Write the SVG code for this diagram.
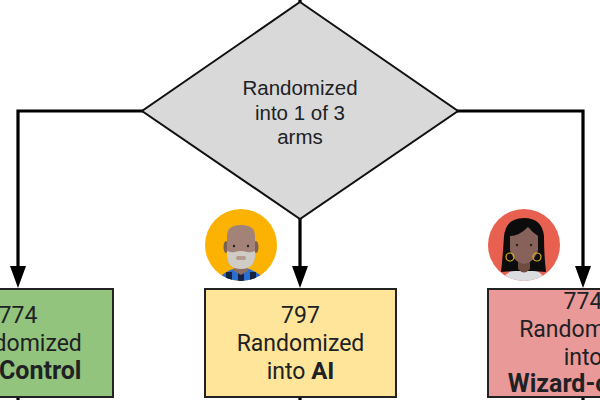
<svg xmlns="http://www.w3.org/2000/svg" width="600" height="400" viewBox="0 0 600 400">
<style>
.c{fill:none;stroke:#000;stroke-width:3.2}
.h{fill:#000}
.b{stroke:#222;stroke-width:2}
.t{font-family:Roboto,"Open Sans",sans-serif;font-size:23px;fill:#202124;text-anchor:middle}
.d{font-family:"Liberation Sans",Arial,sans-serif;font-size:20.500px;fill:#202124;text-anchor:middle}
.s{font-weight:700;font-size:24px}
.l{font-weight:700;font-size:25px}
</style>
<rect width="600" height="400" fill="#fff"/>
<g id="connectors">
<path class="c" d="M300 0V3M143 111H18V268M457 111H583V268M300 218V268M18 397V400M300 397V400M583 397V400"/>
<path class="h" d="M10 266H26L18 288ZM292 266H308L300 288ZM575 266H591L583 288Z"/>
</g>
<g id="decision">
<path d="M300 2L458 111L300 219L142 111Z" fill="#d9d9d9" stroke="#111" stroke-width="2"/>
<text class="d" x="300" y="95">Randomized</text>
<text class="d" x="300" y="120">into 1 of 3</text>
<text class="d" x="300" y="144">arms</text>
</g>
<g id="control">
<rect class="b" x="-77" y="289" width="190" height="108" fill="#93c47d"/>
<text class="t" x="18" y="323">774</text>
<text class="t" x="18" y="351">Randomized</text>
<text class="t" x="18" y="379">into <tspan class="l">Control</tspan></text>
</g>
<g id="ai">
<rect class="b" x="205" y="289" width="191" height="108" fill="#ffe599"/>
<text class="t" x="300.500" y="323">797</text>
<text class="t" x="300.500" y="351">Randomized</text>
<text class="t" x="300.500" y="379">into <tspan class="s">AI</tspan></text>
</g>
<g id="wizard">
<rect class="b" x="488" y="289" width="191" height="108" fill="#ea9999"/>
<text class="t" x="583" y="309">774</text>
<text class="t" x="583" y="337">Randomized</text>
<text class="t" x="583" y="365">into</text>
<text class="t l" x="583" y="392">Wizard-of-Oz</text>
</g>
<g id="avatar-man">
<clipPath id="cm"><circle cx="241" cy="245" r="36"/></clipPath>
<circle cx="241" cy="245" r="36" fill="#fbb202"/>
<g clip-path="url(#cm)">
<path d="M217 281Q222 272 236 268H246Q260 272 265 281Z" fill="#2a6fd0"/>
<path d="M226 272H232V281H226ZM238 270H244V281H238ZM250 272H256V281H250Z" fill="#15233f"/>
<path d="M234 258H248V271L241 275L234 271Z" fill="#8c6e62"/>
<ellipse cx="226" cy="247" rx="2.500" ry="6" fill="#7d6157"/>
<ellipse cx="256" cy="247" rx="2.500" ry="6" fill="#7d6157"/>
<path d="M227 236Q227 225 241 225Q255 225 255 236V255Q255 268 241 269Q227 268 227 255Z" fill="#a38377"/>
<path d="M227 251Q232 253 235 252Q241 250 247 252Q250 253 255 251V257Q254 269 241 269Q228 269 227 257Z" fill="#cfcbc5"/>
<rect x="236" y="256" width="10" height="4" rx="2" fill="#b59a90"/>
<circle cx="234" cy="246" r="1.200" fill="#222"/>
<circle cx="248" cy="246" r="1.200" fill="#222"/>
</g>
</g>
<g id="avatar-woman">
<clipPath id="cw"><circle cx="524" cy="245" r="36"/></clipPath>
<circle cx="524" cy="245" r="36" fill="#e8604f"/>
<g clip-path="url(#cw)">
<path d="M502 281Q505 272 518 268H530Q543 272 546 281Z" fill="#dadce0"/>
<path d="M524 218Q506 218 504 236Q503 254 501 272L515 271H533L546 272Q544 254 544 236Q542 218 524 218Z" fill="#0c0c0c"/>
<path d="M518 256H530V269Q524 276 518 269Z" fill="#6e4c40"/>
<path d="M510 236Q519 236 528 227Q533 233 538 236V250Q535 262 524 264Q513 262 510 250Z" fill="#86625a"/>
<circle cx="510" cy="257" r="4" fill="none" stroke="#e0ae1a" stroke-width="1.200"/>
<circle cx="537" cy="257" r="4" fill="none" stroke="#e0ae1a" stroke-width="1.200"/>
<circle cx="517" cy="245" r="1.200" fill="#222"/>
<circle cx="531" cy="245" r="1.200" fill="#222"/>
</g>
</g>
</svg>
